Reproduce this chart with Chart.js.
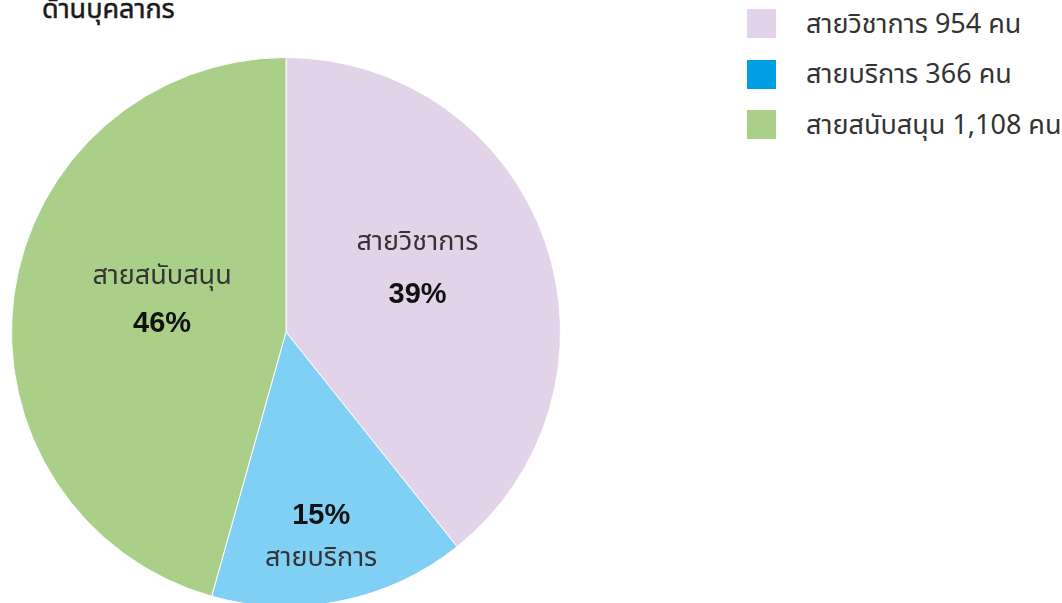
<!DOCTYPE html>
<html>
<head>
<meta charset="utf-8">
<script src="https://cdn.jsdelivr.net/npm/chart.js@4.4.0/dist/chart.umd.min.js"></script>
<style>
  html, body { margin: 0; padding: 0; background: #fff; overflow: hidden; width: 1062px; height: 603px; }
  #wrap { position: relative; width: 1062px; height: 603px; overflow: hidden; }
  #title { position: absolute; left: 42px; top: -11px; font-family: "Noto Sans Thai", "Noto Sans", sans-serif; font-size: 27px; font-weight: normal; color: #1a1a1a; -webkit-text-stroke: 0.5px #1a1a1a; white-space: nowrap; }
  #box { position: absolute; left: 0; top: 0; width: 572px; height: 664px; }
  #legend { position: absolute; left: 747px; top: 9px; font-family: "Noto Sans Thai", "Noto Sans", sans-serif; font-size: 27px; color: #333; }
  .item { position: relative; height: 29px; margin-bottom: 21.5px; white-space: nowrap; }
  .sw { position: absolute; left: 0; top: 0; width: 29px; height: 29px; }
  .lt { position: absolute; left: 59px; top: 50%; transform: translateY(-50%); }
</style>
</head>
<body>
<div id="wrap">
  <div id="title">ด้านบุคลากร</div>
  <div id="box"><canvas id="myChart" width="572" height="664"></canvas></div>
  <div id="legend"></div>
</div>
<script>
var categorias = ['สายวิชาการ', 'สายบริการ', 'สายสนับสนุน'];
var valores = [954, 366, 1108];
var unidade = 'คน';
var coresFatia = ['#e3d3e8', '#80cff4', '#a9cf88'];
var coresLegenda = ['#e3d3e8', '#009fe3', '#a9cf88'];

// posição do texto dentro da fatia (deslocamento a partir do centro do arco)
var posRotulos = [
  { dx: 2, dy: -17, pctPrimeiro: false, gap: 50 },
  { dx: 8, dy: 72, pctPrimeiro: true, gap: 45 },
  { dx: 12, dy: -12, pctPrimeiro: false, gap: 46 }
];

var total = valores.reduce(function (a, b) { return a + b; }, 0);

// legenda em html
var legenda = document.getElementById('legend');
for (var i = 0; i < categorias.length; i++) {
  var item = document.createElement('div');
  item.className = 'item';
  item.innerHTML = '<span class="sw" style="background:' + coresLegenda[i] + '"></span>' +
    '<span class="lt">' + categorias[i] + ' ' + valores[i].toLocaleString('en-US') + ' ' + unidade + '</span>';
  legenda.appendChild(item);
}

var rotulosPlugin = {
  id: 'rotulos',
  afterDatasetsDraw: function (chart) {
    var ctx = chart.ctx;
    var meta = chart.getDatasetMeta(0);
    meta.data.forEach(function (arc, i) {
      var p = arc.tooltipPosition();
      var cfg = posRotulos[i];
      var x = p.x + cfg.dx;
      var y = p.y + cfg.dy;
      var pct = Math.round(valores[i] / total * 100) + '%';
      var yTexto = cfg.pctPrimeiro ? y + cfg.gap / 2 : y - cfg.gap / 2;
      var yPct = cfg.pctPrimeiro ? y - cfg.gap / 2 : y + cfg.gap / 2;
      ctx.save();
      ctx.textAlign = 'center';
      ctx.textBaseline = 'middle';
      ctx.fillStyle = '#333';
      ctx.font = '27px "Noto Sans Thai", "Noto Sans", sans-serif';
      ctx.fillText(categorias[i], x, yTexto);
      ctx.fillStyle = '#111';
      ctx.font = 'bold 29px "Liberation Sans", Arial, sans-serif';
      ctx.fillText(pct, x, yPct);
      ctx.restore();
    });
  }
};

var chart = new Chart(document.getElementById('myChart'), {
  type: 'pie',
  data: {
    labels: categorias,
    datasets: [{
      data: valores,
      backgroundColor: coresFatia,
      borderColor: '#ffffff',
      borderWidth: 1
    }]
  },
  options: {
    responsive: false,
    animation: false,
    layout: { padding: { left: 11, right: 11, top: 57, bottom: 57 } },
    plugins: {
      legend: { display: false },
      tooltip: { enabled: false }
    }
  },
  plugins: [rotulosPlugin]
});
</script>
</body>
</html>
